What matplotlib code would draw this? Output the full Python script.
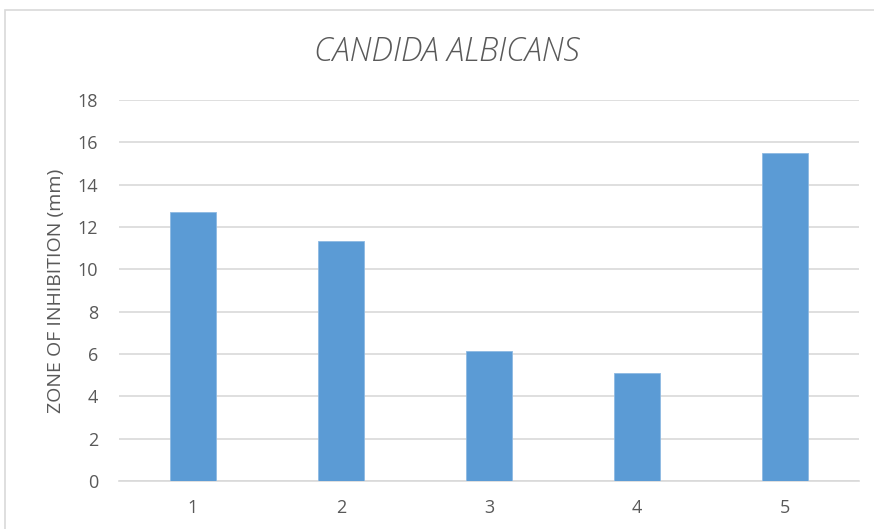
import numpy as np
import matplotlib
matplotlib.use('Agg')
from matplotlib import pyplot as plt
from matplotlib.patches import Rectangle

'''data read off the chart'''
categories = ['1', '2', '3', '4', '5']
zone_mm = [12.7, 11.35, 6.15, 5.1, 15.5]
y_ticks = [0, 2, 4, 6, 8, 10, 12, 14, 16, 18]

bar_color = '#5B9BD5'
grid_color = '#D9D9D9'
text_color = '#595959'

plt.rcParams['font.family'] = ['Open Sans', 'DejaVu Sans']

fig = plt.figure(figsize=(8.74, 5.29), dpi=100)
ax = fig.add_axes([119/874, 1 - 481/529, 740/874, 381/529])

'''outer chart frame like in Excel'''
fig.patches.append(Rectangle((5/874, -0.01), 1.0, 1 - 10/529 + 0.01, transform=fig.transFigure,
                             fill=False, edgecolor=grid_color, linewidth=1.2))

x = np.arange(len(categories))
ax.bar(x, zone_mm, width=0.31, color=bar_color, edgecolor='#8DB9E2', linewidth=0.6, zorder=3)

ax.set_xlim(-0.5, len(categories) - 0.5)
ax.set_ylim(0, 18)
ax.set_yticks(y_ticks)
ax.set_xticks(x)
ax.set_xticklabels(categories)
ax.yaxis.grid(True, color=grid_color, linewidth=1.2, zorder=0)
ax.set_axisbelow(True)

for side in ['top', 'right', 'left']:
    ax.spines[side].set_visible(False)
ax.spines['bottom'].set_color(grid_color)
ax.spines['bottom'].set_linewidth(1.2)

ax.tick_params(axis='both', length=0, labelsize=13, labelcolor=text_color)
ax.tick_params(axis='y', pad=15)
ax.tick_params(axis='x', pad=13)

ax.set_ylabel('ZONE OF INHIBITION (mm)', fontsize=14, color=text_color, labelpad=9)
fig.text(447/874, 1 - 52/529, 'CANDIDA ALBICANS', ha='center', va='center',
         fontsize=23.5, fontstyle='italic', fontweight='light', color=text_color)

fig.savefig('out.png', dpi=100)
